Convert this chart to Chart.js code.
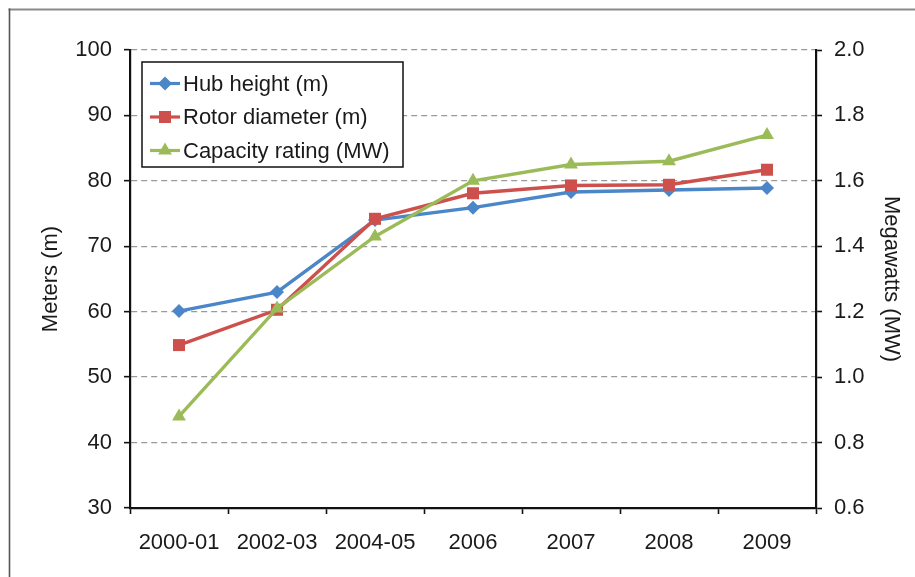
<!DOCTYPE html>
<html>
<head>
<meta charset="utf-8">
<title>Wind turbine size trends</title>
<script src="https://cdn.jsdelivr.net/npm/chart.js@4/dist/chart.umd.min.js"></script>
<style>
  html, body { margin: 0; padding: 0; background: #ffffff; }
  canvas { display: block; }
</style>
</head>
<body>
<canvas id="chart" width="915" height="577"></canvas>
<script>
// Installation years (grouped periods first)
const categories = ['2000-01', '2002-03', '2004-05', '2006', '2007', '2008', '2009'];

// Average turbine dimensions, meters
const hubHeight = [60.1, 63.0, 74.0, 75.9, 78.3, 78.6, 78.9];
const rotorDiameter = [54.9, 60.3, 74.2, 78.1, 79.3, 79.4, 81.7];

// Average nameplate capacity, megawatts
const capacityRating = [0.88, 1.21, 1.43, 1.60, 1.65, 1.66, 1.74];

// Axis ranges and steps
const metersRange = { min: 30, max: 100, step: 10 };
const mwRange = { min: 0.6, max: 2.0, step: 0.2 };

const seriesNames = ['Hub height (m)', 'Rotor diameter (m)', 'Capacity rating (MW)'];

const FONT = '"Liberation Sans", Arial, Helvetica, sans-serif';
const FONT_SIZE = 22;
const BLUE = '#4A86C8';
const RED = '#CD504C';
const GREEN = '#9BBB59';
const INK = '#1a1a1a';

Chart.defaults.font.family = FONT;
Chart.defaults.font.size = FONT_SIZE;
Chart.defaults.color = INK;

// White page with the thin grey frame along the top and left edges
const framePlugin = {
  id: 'frame',
  beforeDraw(chart) {
    const ctx = chart.ctx;
    ctx.save();
    ctx.fillStyle = '#ffffff';
    ctx.fillRect(0, 0, chart.width, chart.height);
    ctx.lineCap = 'butt';
    ctx.strokeStyle = '#8a8a8a';
    ctx.lineWidth = 2.2;
    ctx.beginPath();
    ctx.moveTo(8.5, 9.5);
    ctx.lineTo(chart.width, 9.5);
    ctx.stroke();
    ctx.strokeStyle = '#555555';
    ctx.lineWidth = 1.6;
    ctx.beginPath();
    ctx.moveTo(9.5, 8.5);
    ctx.lineTo(9.5, chart.height);
    ctx.stroke();
    ctx.restore();
  }
};

// Boxed legend drawn inside the top-left corner of the plot area
const boxedLegend = {
  id: 'boxedLegend',
  afterDraw(chart) {
    const ctx = chart.ctx;
    const area = chart.chartArea;
    const x = area.left + 12;
    const y = area.top + 12;
    const w = 261;
    const h = 105;
    const rowH = 33.5;
    ctx.save();
    ctx.fillStyle = '#ffffff';
    ctx.fillRect(x, y, w, h);
    ctx.strokeStyle = '#111111';
    ctx.lineWidth = 1.5;
    ctx.strokeRect(x, y, w, h);
    chart.data.datasets.forEach((ds, i) => {
      const cy = y + 21.5 + i * rowH;
      ctx.strokeStyle = ds.borderColor;
      ctx.lineWidth = 3.2;
      ctx.beginPath();
      ctx.moveTo(x + 8, cy);
      ctx.lineTo(x + 38, cy);
      ctx.stroke();
      const style = {
        pointStyle: ds.pointStyle,
        radius: ds.pointRadius,
        borderWidth: 0,
        rotation: 0
      };
      ctx.fillStyle = ds.pointBackgroundColor;
      ctx.strokeStyle = ds.pointBackgroundColor;
      if (Chart.helpers && Chart.helpers.drawPoint) {
        Chart.helpers.drawPoint(ctx, style, x + 23, cy);
      }
      ctx.fillStyle = INK;
      ctx.font = FONT_SIZE + 'px ' + FONT;
      ctx.textAlign = 'left';
      ctx.textBaseline = 'middle';
      ctx.fillText(ds.label, x + 41, cy + 1);
    });
    ctx.restore();
  }
};

new Chart(document.getElementById('chart'), {
  type: 'line',
  data: {
    labels: categories,
    datasets: [
      {
        label: seriesNames[0],
        data: hubHeight,
        yAxisID: 'y',
        borderColor: BLUE,
        backgroundColor: BLUE,
        pointBackgroundColor: BLUE,
        pointBorderColor: BLUE,
        pointStyle: 'rectRot',
        pointRadius: 7,
        pointBorderWidth: 0,
        borderWidth: 3.4,
        tension: 0,
        order: 2
      },
      {
        label: seriesNames[1],
        data: rotorDiameter,
        yAxisID: 'y',
        borderColor: RED,
        backgroundColor: RED,
        pointBackgroundColor: RED,
        pointBorderColor: RED,
        pointStyle: 'rect',
        pointRadius: 8.5,
        pointBorderWidth: 0,
        borderWidth: 3.4,
        tension: 0,
        order: 1
      },
      {
        label: seriesNames[2],
        data: capacityRating,
        yAxisID: 'y1',
        borderColor: GREEN,
        backgroundColor: GREEN,
        pointBackgroundColor: GREEN,
        pointBorderColor: GREEN,
        pointStyle: 'triangle',
        pointRadius: 8,
        pointBorderWidth: 0,
        borderWidth: 3.4,
        tension: 0,
        order: 0
      }
    ]
  },
  options: {
    responsive: false,
    devicePixelRatio: 1,
    animation: false,
    clip: false,
    layout: { padding: { top: 50, left: 0, right: 0, bottom: 0 } },
    plugins: {
      legend: { display: false },
      tooltip: { enabled: false }
    },
    scales: {
      x: {
        type: 'category',
        offset: true,
        afterFit(scale) { scale.height = 69; },
        grid: {
          display: true,
          offset: true,
          drawOnChartArea: false,
          drawTicks: true,
          tickLength: 6,
          tickColor: '#111111',
          tickWidth: 1.6
        },
        border: { display: true, color: '#111111', width: 2.2 },
        ticks: {
          padding: 16,
          maxRotation: 0,
          autoSkip: false,
          color: INK,
          font: { size: FONT_SIZE }
        }
      },
      y: {
        position: 'left',
        min: metersRange.min,
        max: metersRange.max,
        afterFit(scale) { scale.width = 130; },
        grid: {
          color: '#9a9a9a',
          lineWidth: 1.3,
          drawTicks: true,
          tickLength: 6,
          tickColor: '#111111',
          tickWidth: 1.6
        },
        border: { display: true, color: '#111111', width: 2.2, dash: [6, 4] },
        ticks: {
          stepSize: metersRange.step,
          padding: 12,
          color: INK,
          font: { size: FONT_SIZE }
        },
        title: {
          display: true,
          text: 'Meters (m)',
          color: INK,
          font: { size: FONT_SIZE },
          padding: { top: 38, bottom: 0 }
        }
      },
      y1: {
        position: 'right',
        min: mwRange.min,
        max: mwRange.max,
        afterFit(scale) { scale.width = 99; },
        grid: {
          drawOnChartArea: false,
          drawTicks: true,
          tickLength: 6,
          tickColor: '#111111',
          tickWidth: 1.6
        },
        border: { display: true, color: '#111111', width: 2.2 },
        ticks: {
          stepSize: mwRange.step,
          padding: 12,
          color: INK,
          font: { size: FONT_SIZE },
          callback: (v) => Number(v).toFixed(1)
        },
        title: {
          display: true,
          text: 'Megawatts (MW)',
          color: INK,
          font: { size: FONT_SIZE },
          padding: { top: 11, bottom: 0 }
        }
      }
    }
  },
  plugins: [framePlugin, boxedLegend]
});
</script>
</body>
</html>
